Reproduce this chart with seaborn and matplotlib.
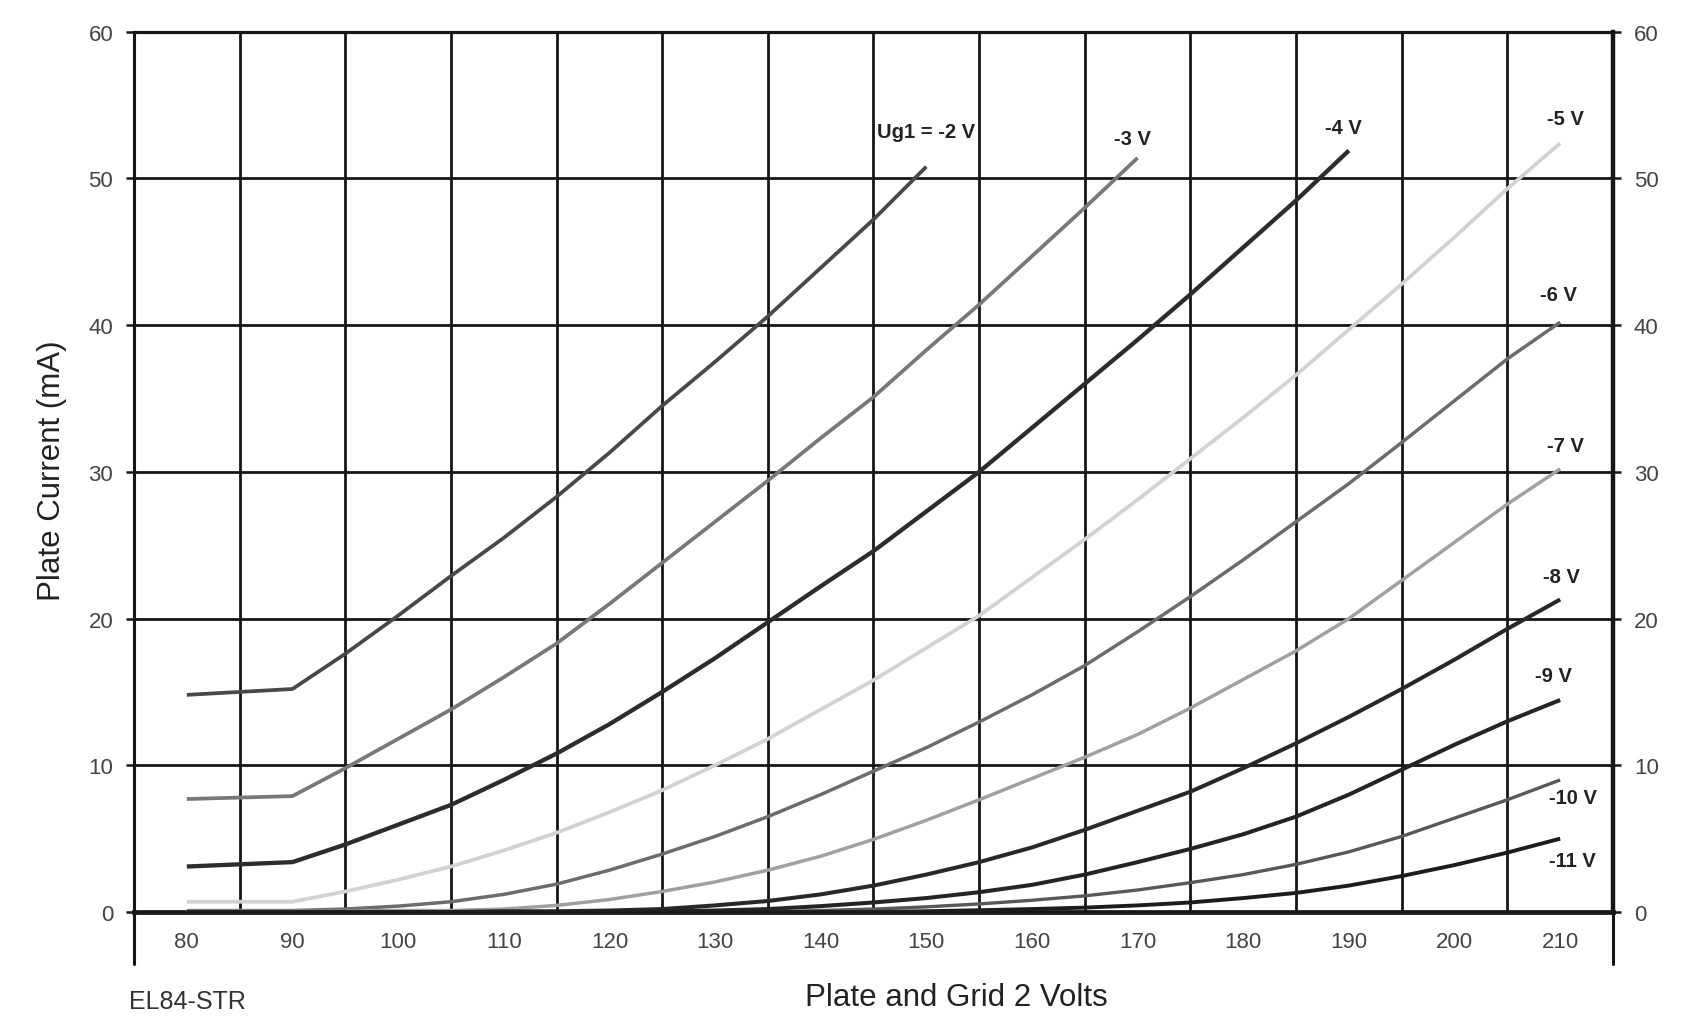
import matplotlib
matplotlib.use("Agg")
import numpy as np
import pandas as pd
import matplotlib.pyplot as plt
import seaborn as sns

# EL84 plate curves (every 5 V from 90 V)
vg2 = [80, 90, 95, 100, 105, 110, 115, 120, 125, 130, 135, 140, 145, 150,
       155, 160, 165, 170, 175, 180, 185, 190, 195, 200, 205, 210]

ia_2v = [14.8, 15.2, 17.6, 20.2, 22.9, 25.5, 28.3, 31.3, 34.5, 37.5, 40.6, 43.9, 47.2, 50.8]
ia_3v = [7.7, 7.9, 9.8, 11.8, 13.8, 16.0, 18.3, 21.0, 23.8, 26.6, 29.4, 32.3, 35.1, 38.3,
         41.4, 44.7, 48.0, 51.4]
ia_4v = [3.1, 3.4, 4.6, 5.95, 7.3, 9.0, 10.8, 12.8, 15.0, 17.3, 19.75, 22.2, 24.6, 27.3,
         30.0, 33.0, 36.0, 39.0, 42.1, 45.3, 48.5, 51.9]
ia_5v = [0.7, 0.7, 1.4, 2.2, 3.1, 4.2, 5.4, 6.8, 8.3, 10.0, 11.8, 13.8, 15.8, 18.0,
         20.2, 22.8, 25.4, 28.1, 30.9, 33.7, 36.6, 39.7, 42.8, 46.0, 49.3, 52.4]
ia_6v = [0.1, 0.1, 0.2, 0.4, 0.7, 1.2, 1.9, 2.85, 3.95, 5.15, 6.5, 8.0, 9.6, 11.2,
         12.95, 14.8, 16.8, 19.1, 21.5, 24.0, 26.6, 29.2, 32.0, 34.85, 37.7, 40.2]
ia_7v = [0.05, 0.05, 0.05, 0.1, 0.1, 0.2, 0.45, 0.85, 1.4, 2.05, 2.85, 3.8, 4.95, 6.25,
         7.65, 9.1, 10.55, 12.1, 13.9, 15.85, 17.8, 20.0, 22.6, 25.2, 27.8, 30.2]
ia_8v = [0, 0, 0, 0, 0, 0.05, 0.05, 0.1, 0.2, 0.45, 0.75, 1.2, 1.8, 2.55,
         3.4, 4.4, 5.6, 6.9, 8.2, 9.8, 11.5, 13.3, 15.2, 17.2, 19.3, 21.3]
ia_9v = [0, 0, 0, 0, 0, 0, 0, 0.02, 0.05, 0.1, 0.2, 0.4, 0.65, 0.95,
         1.35, 1.85, 2.55, 3.4, 4.3, 5.3, 6.5, 8.0, 9.7, 11.4, 13.0, 14.45]
ia_10v = [0, 0, 0, 0, 0, 0, 0, 0, 0, 0, 0, 0.1, 0.2, 0.35,
          0.55, 0.8, 1.1, 1.5, 2.0, 2.55, 3.25, 4.1, 5.15, 6.4, 7.65, 9.0]
ia_11v = [0, 0, 0, 0, 0, 0, 0, 0, 0, 0, 0, 0, 0, 0.05,
          0.12, 0.2, 0.3, 0.45, 0.65, 0.95, 1.3, 1.8, 2.45, 3.2, 4.05, 5.0]

curve_names = ["Ug1 = -2 V", "-3 V", "-4 V", "-5 V", "-6 V", "-7 V", "-8 V", "-9 V", "-10 V", "-11 V"]
xticks = [80, 90, 100, 110, 120, 130, 140, 150, 160, 170, 180, 190, 200, 210]
yticks = [0, 10, 20, 30, 40, 50, 60]

# styling per curve (grey shades like the scan)
colors = ["#484848", "#787878", "#2c2c2c", "#d2d2d2", "#6c6c6c",
          "#a0a0a0", "#282828", "#242424", "#585858", "#1c1c1c"]
widths = [2.7, 2.7, 3.1, 2.7, 2.5, 2.5, 2.9, 2.9, 2.4, 2.8]
# where the text of each curve label sits (x, y)
label_pos = [(150, 53.2), (169.5, 52.7), (189.5, 53.5), (210.5, 54.1), (209.8, 42.1),
             (210.5, 31.8), (210.1, 22.9), (209.4, 16.1), (211.2, 7.8), (211.2, 3.5)]

sns.set_style("white")
plt.rcParams["font.family"] = ["Liberation Sans", "DejaVu Sans"]

fig = plt.figure(figsize=(16.86, 10.2), dpi=100)
ax = fig.add_axes([134 / 1686, 1 - 913 / 1020, (1613 - 134) / 1686, (913 - 32.7) / 1020])

grid_c = "#161616"
ax.set_xlim(75, 215)
ax.set_ylim(0, 60)

# grid: vertical lines between the tick labels, horizontal on the ticks
ax.set_xticks(xticks)
ax.set_xticks(np.arange(85, 210, 10), minor=True)
ax.set_yticks(yticks)
ax.grid(which="minor", axis="x", color=grid_c, lw=2.0)
ax.grid(which="major", axis="y", color=grid_c, lw=2.0)
ax.grid(which="major", axis="x", visible=False)
ax.set_axisbelow(True)

series = [ia_2v, ia_3v, ia_4v, ia_5v, ia_6v, ia_7v, ia_8v, ia_9v, ia_10v, ia_11v]
for name, ia, c, w, (lx, ly) in zip(curve_names, series, colors, widths, label_pos):
    df = pd.DataFrame({"vg2": vg2[:len(ia)], "ia": ia})
    sns.lineplot(data=df, x="vg2", y="ia", color=c, lw=w, ax=ax, zorder=3,
                 solid_capstyle="butt")
    ax.text(lx, ly, name, ha="center", va="center", fontsize=14.5,
            fontweight="bold", color="#222222", zorder=4)

# ticks and labels
ax.tick_params(axis="x", which="major", length=0, pad=14, labelsize=16, labelcolor="#444444")
ax.tick_params(axis="x", which="minor", length=19.5, width=2.0, color=grid_c, direction="out")
ax.tick_params(axis="y", which="major", left=True, right=True, labelleft=True, labelright=True,
               length=6, width=1.8, color=grid_c, pad=9, labelsize=16, labelcolor="#444444")

# long ticks under the outer frame lines
for xv in [75, 215]:
    ax.axvline(xv, ymin=-0.059, ymax=0, clip_on=False, color=grid_c, lw=2.2)

for side, lw in [("left", 2.2), ("top", 2.3), ("right", 3.2), ("bottom", 3.4)]:
    ax.spines[side].set_visible(True)
    ax.spines[side].set_color(grid_c)
    ax.spines[side].set_linewidth(lw)

ax.set_xlabel("Plate and Grid 2 Volts", fontsize=22.5, color="#222222")
ax.xaxis.set_label_coords(0.556, -0.0966)
ax.xaxis.label.set_va("center")
ax.set_ylabel("Plate Current (mA)", fontsize=22.5, color="#222222")
ax.yaxis.set_label_coords(-0.0554, 0.503)
ax.yaxis.label.set_va("center")

fig.text(129 / 1686, 1 - 1002 / 1020, "EL84-STR", fontsize=18, color="#333333",
         ha="left", va="center")

fig.savefig("out.png", dpi=100, facecolor="white")
